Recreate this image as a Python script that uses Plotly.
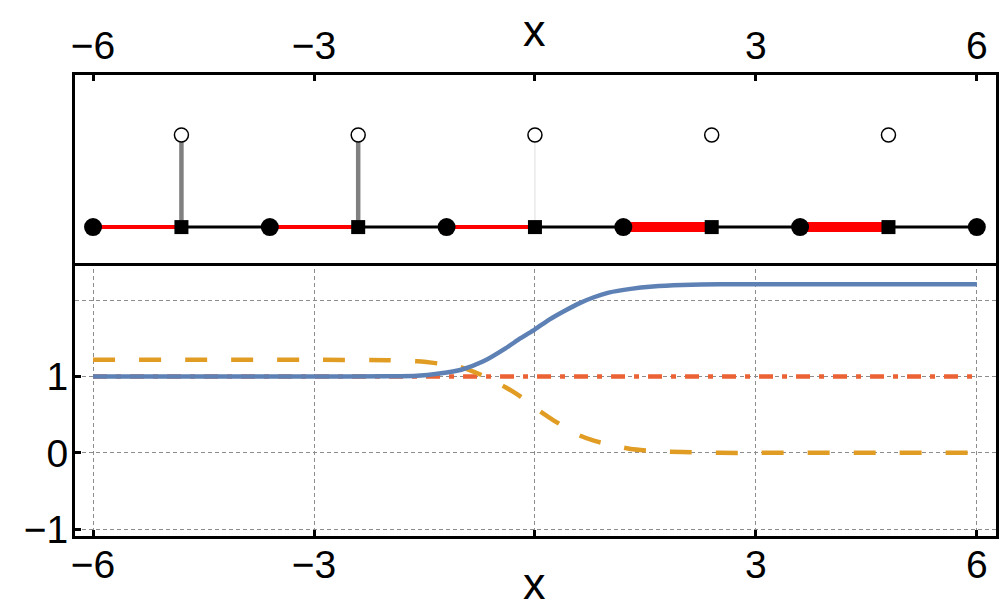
import plotly.graph_objects as go

# ---------------- data ----------------
# top panel: lattice of nodes (filled circles) and sites (squares)
node_x = [-6, -3.6, -1.2, 1.2, 3.6, 6]
site_x = [-4.8, -2.4, 0, 2.4, 4.8]
chain_y = [0, 0, 0, 0, 0, 0]
site_y = [0, 0, 0, 0, 0]
site_top = [1, 1, 1, 1, 1]

# bottom panel curves
curve_x = [-6, -3, -2, -1.6, -1.3, -1.0, -0.7, -0.4, -0.2, 0, 0.2, 0.4, 0.6, 0.8,
           1.0, 1.3, 1.6, 2, 2.5, 3, 6]
blue_y = [1.0, 1.0, 1.003, 1.01, 1.04, 1.09, 1.2, 1.37, 1.5, 1.62, 1.75, 1.86,
          1.96, 2.04, 2.1, 2.15, 2.18, 2.2, 2.21, 2.21, 2.21]
orange_y = [1.22, 1.22, 1.215, 1.2, 1.17, 1.12, 1.01, 0.86, 0.74, 0.59, 0.46,
            0.34, 0.23, 0.16, 0.11, 0.05, 0.025, 0.01, 0.0, 0.0, 0.0]
red_x = [-6, 6]
red_y = [1, 1]

x_ticks = [-6, -3, 0, 3, 6]
x_ticktext = ["\u22126", "\u22123", "", "3", "6"]
y_ticks = [-1, 0, 1]
y_ticktext = ["\u22121", "0", "1"]
y_grid_extra = [2]
x_title = "x"

# ---------------- styles ----------------
bond_widths = [4, 4, 4, 10, 10]
stem_colors = ["#808080", "#808080", "#e3e3e3", None, None]
stem_widths = [4.5, 4.5, 1.2, 0, 0]
FONT = "Liberation Sans"
GRID = "#8c8c8c"
TICK_SIZE = 39

fig = go.Figure()

# ---- top panel ----
fig.add_trace(go.Scatter(x=[node_x[0], node_x[-1]], y=[chain_y[0], chain_y[-1]],
                         mode="lines", line=dict(color="black", width=3),
                         xaxis="x2", yaxis="y2", showlegend=False, hoverinfo="skip"))
for i, sx in enumerate(site_x):
    fig.add_trace(go.Scatter(x=[node_x[i], sx], y=[chain_y[i], site_y[i]],
                             mode="lines", line=dict(color="#ff0000", width=bond_widths[i]),
                             xaxis="x2", yaxis="y2", showlegend=False, hoverinfo="skip"))
for i, sx in enumerate(site_x):
    if stem_colors[i] is None:
        continue
    fig.add_trace(go.Scatter(x=[sx, sx], y=[site_y[i], site_top[i]],
                             mode="lines", line=dict(color=stem_colors[i], width=stem_widths[i]),
                             xaxis="x2", yaxis="y2", showlegend=False, hoverinfo="skip"))
fig.add_trace(go.Scatter(x=node_x, y=chain_y, mode="markers",
                         marker=dict(symbol="circle", size=18, color="black"),
                         xaxis="x2", yaxis="y2", showlegend=False))
fig.add_trace(go.Scatter(x=site_x, y=site_y, mode="markers",
                         marker=dict(symbol="square", size=14, color="black"),
                         xaxis="x2", yaxis="y2", showlegend=False))
fig.add_trace(go.Scatter(x=site_x, y=site_top, mode="markers",
                         marker=dict(symbol="circle", size=14, color="white",
                                     line=dict(color="black", width=1.5)),
                         xaxis="x2", yaxis="y2", showlegend=False))

# ---- bottom panel ----
fig.add_trace(go.Scatter(x=red_x, y=red_y, mode="lines",
                         line=dict(color="#EB6235", width=4.5, dash="14px,9px,5px,9px"),
                         showlegend=False))
fig.add_trace(go.Scatter(x=curve_x, y=orange_y, mode="lines",
                         line=dict(color="#E19C24", width=4.5, dash="22px,24px",
                                   shape="spline", smoothing=0.6),
                         showlegend=False))
fig.add_trace(go.Scatter(x=curve_x, y=blue_y, mode="lines",
                         line=dict(color="#5E81B5", width=4.5, shape="spline", smoothing=0.6),
                         showlegend=False))

axis_common = dict(showline=True, linewidth=3, linecolor="black", mirror=True,
                   zeroline=False, automargin=False,
                   tickfont=dict(family=FONT, size=TICK_SIZE, color="black"))
xr = [-6.245, 6.26]

fig.update_layout(
    width=1000, height=610,
    margin=dict(l=75, r=4, t=75, b=74),
    paper_bgcolor="white", plot_bgcolor="white",
    font=dict(family=FONT, color="black"),
    xaxis=dict(domain=[0, 1], range=xr, anchor="y",
               tickmode="array", tickvals=x_ticks, ticktext=x_ticktext,
               ticks="inside", ticklen=6, tickwidth=3, tickcolor="black",
               ticklabelstandoff=-8,
               showgrid=True, gridcolor=GRID, gridwidth=1, griddash="4px,3px",
               **axis_common),
    yaxis=dict(domain=[0, 0.594], range=[-1.09, 2.5], anchor="x",
               tickmode="array", tickvals=y_ticks, ticktext=y_ticktext,
               ticks="inside", ticklen=6, tickwidth=3, tickcolor="black",
               ticklabelstandoff=-4,
               showgrid=True, gridcolor=GRID, gridwidth=1, griddash="4px,3px",
               minor=dict(tickmode="array", tickvals=y_grid_extra, showgrid=True,
                          gridcolor=GRID, gridwidth=1, griddash="4px,3px", ticks=""),
               **axis_common),
    xaxis2=dict(domain=[0, 1], range=xr, anchor="y2", side="top", matches="x",
                tickmode="array", tickvals=x_ticks, ticktext=x_ticktext,
                ticks="inside", ticklen=6, tickwidth=3, tickcolor="black",
                ticklabelstandoff=-3,
                showgrid=False, **axis_common),
    yaxis2=dict(domain=[0.592, 1], range=[-0.391, 1.652], anchor="x2",
                showticklabels=False, ticks="", showgrid=False, **axis_common),
    annotations=[
        dict(text=x_title, x=0, xref="x", y=-0.1041, yref="paper",
             xanchor="center", yanchor="middle", showarrow=False,
             font=dict(family=FONT, size=45, color="black")),
        dict(text=x_title, x=0, xref="x2", y=1.0976, yref="paper",
             xanchor="center", yanchor="middle", showarrow=False,
             font=dict(family=FONT, size=45, color="black")),
    ],
)

fig.write_html("out.html", config={"displayModeBar": False},
               post_script="document.body.style.margin='0';")
